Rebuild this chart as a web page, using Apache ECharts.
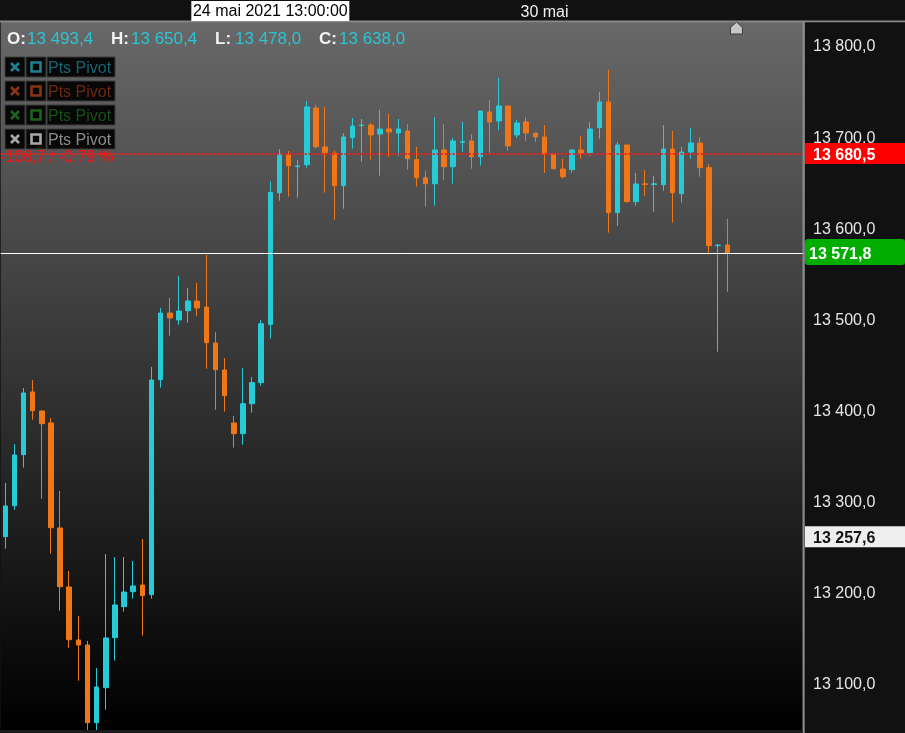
<!DOCTYPE html>
<html>
<head>
<meta charset="utf-8">
<script src="https://cdn.jsdelivr.net/npm/echarts@6/dist/echarts.min.js"></script>
<style>
html,body{margin:0;padding:0;background:#111;}
#chart{width:905px;height:733px;}
</style>
</head>
<body>
<div id="chart"></div>
<script>
// ---- data ----
const openV  = [13260.5,13294.5,13350.5,13419.3,13398.4,13385.3,13270.1,13205.3,13147.2,13141.7,
                13056.4,13094.8,13149.7,13183.7,13200.2,13207.5,13196.9,13432.8,13505.9,13498.3,
                13508.5,13519.1,13512.5,13473.0,13443.4,13385.3,13373.5,13406.4,13429.5,13493.4,
                13637.9,13679.3,13666.5,13668.7,13730.9,13688.1,13681.2,13645.6,13698.3,13711.5,
                13712.2,13702.3,13707.8,13703.4,13705.6,13674.2,13654.4,13647.8,13684.8,13666.5,
                13693.2,13694.7,13677.4,13726.5,13716.6,13733.1,13701.3,13715.5,13703.4,13699.1,
                13680.4,13663.9,13663.2,13684.8,13681.8,13709.3,13737.5,13616.0,13690.3,13628.1,
                13647.6,13646.9,13646.7,13685.9,13636.8,13682.6,13692.5,13665.4,13579.8,13580.6];
const highV  = [13319.4,13362.2,13423.7,13432.4,13398.4,13390.7,13310.6,13222.9,13173.5,13146.1,
                13116.4,13241.5,13238.2,13238.2,13233.8,13258.0,13446.7,13511.4,13522.4,13546.5,
                13533.4,13538.9,13569.6,13485.1,13456.6,13392.9,13445.6,13435.7,13498.3,13650.4,
                13685.9,13683.7,13673.8,13738.6,13734.2,13732.0,13684.0,13703.4,13719.9,13718.8,
                13714.4,13728.7,13724.3,13718.8,13713.3,13688.1,13662.1,13721.0,13713.3,13698.0,
                13715.5,13702.3,13727.6,13739.7,13763.8,13733.1,13717.7,13721.0,13703.4,13712.2,
                13681.5,13674.9,13685.9,13700.2,13715.5,13748.4,13772.6,13693.6,13690.3,13659.6,
                13662.8,13656.3,13712.2,13705.6,13688.1,13708.9,13699.1,13669.4,13581.7,13609.1];
const lowV   = [13247.3,13290.1,13336.2,13388.9,13302.2,13241.9,13179.3,13138.7,13102.5,13047.5,
                13047.5,13070.7,13124.5,13178.2,13192.5,13151.9,13192.5,13424.0,13481.0,13493.1,
                13495.3,13502.7,13444.8,13399.8,13397.7,13358.2,13361.4,13396.6,13426.2,13478.0,
                13629.2,13633.6,13632.5,13665.4,13686.2,13637.9,13608.3,13620.4,13686.2,13672.0,
                13674.2,13656.6,13677.4,13678.5,13663.2,13644.5,13622.6,13623.7,13652.2,13647.8,
                13682.9,13664.3,13667.6,13681.8,13706.7,13683.7,13698.0,13694.7,13693.6,13659.6,
                13663.2,13653.3,13659.9,13675.2,13678.5,13697.2,13594.1,13601.7,13627.0,13623.7,
                13634.7,13617.1,13640.1,13605.0,13627.0,13675.2,13655.5,13569.9,13463.5,13529.3];
const closeV = [13294.2,13350.1,13418.2,13398.8,13384.5,13270.4,13205.6,13147.5,13141.7,13056.4,
                13095.6,13149.4,13185.6,13199.8,13206.4,13195.8,13432.4,13505.9,13500.5,13508.1,
                13519.1,13511.4,13473.4,13443.7,13415.2,13373.5,13406.4,13429.5,13494.2,13638.0,
                13680.4,13667.6,13667.3,13732.0,13688.4,13681.8,13645.6,13699.1,13711.1,13712.2,
                13701.3,13707.8,13704.5,13707.8,13675.2,13654.4,13647.8,13684.8,13666.5,13694.7,
                13694.0,13677.4,13727.6,13715.5,13733.1,13689.2,13714.4,13703.4,13699.1,13680.4,
                13664.3,13655.5,13684.8,13681.5,13707.8,13737.5,13616.0,13690.3,13628.1,13647.5,
                13646.9,13647.6,13685.9,13637.9,13682.6,13692.5,13665.4,13579.8,13580.4,13571.8];
const slotCount = 88;                       // 80 candles + empty future slots
const categories = Array.from({length: slotCount}, (_, i) => 'c' + i);
const yTicks = [13100, 13200, 13300, 13400, 13500, 13600, 13700, 13800];
const hoverIndex = 29;
const hoverLabel = '24 mai 2021 13:00:00';
const dayIndex = 59;
const dayLabel = '30 mai';
const nextIndex = 80;
const refLevel = 13680.5;     // red dotted reference
const lastPrice = 13571.8;    // current price
const markLevel = 13257.6;    // white tag
const changeText = '-108,7 / -0,79 %';
const pivotColors = ['#176572', '#6e2810', '#175217', '#8a8a8a'];
const pivotMarkColors = ['#1d8190', '#8a3414', '#1c631c', '#a8a8a8'];
const pivotText = 'Pts Pivot';

// ---- helpers ----
const fmt = v => { const [i, d] = v.toFixed(1).split('.'); return i.replace(/\B(?=(\d{3})+(?!\d))/g, ' ') + ',' + d; };
const UP = '#27cbd8', DOWN = '#ef7718';
const FONT = "'Liberation Sans', Arial, sans-serif";
const DY = 1.5;   // small text baseline nudge

const candles = openV.map((o, i) => [o, closeV[i], lowV[i], highV[i]]);

const chart = echarts.init(document.getElementById('chart'), null, {renderer: 'canvas'});
chart.setOption({
  backgroundColor: '#111111',
  animation: false,
  grid: {
    left: 0.7, right: 100, top: 22, bottom: 3, show: true, borderWidth: 0,
    backgroundColor: {type: 'linear', x: 0, y: 0, x2: 0, y2: 1,
      colorStops: [{offset: 0, color: '#686868'}, {offset: 1, color: '#000000'}]}
  },
  xAxis: {
    type: 'category', data: categories, position: 'top', boundaryGap: true,
    axisLine: {show: false}, axisTick: {show: false}, splitLine: {show: false},
    axisLabel: {
      interval: (idx) => idx === dayIndex,
      formatter: () => dayLabel,
      color: '#f0f0f0', fontSize: 16, fontFamily: FONT, margin: 9, verticalAlign: 'middle'
    }
  },
  yAxis: {
    type: 'value', position: 'right', min: 13048.4, max: 13825.2, scale: true,
    axisLine: {show: false}, axisTick: {show: false}, splitLine: {show: false},
    axisLabel: {customValues: yTicks, formatter: v => '{t|' + fmt(v) + '}', margin: 8,
      rich: {t: {color: '#e6e6e6', fontSize: 16, fontFamily: FONT, padding: [4, 0, 0, 0]}}}
  },
  series: [{
    type: 'candlestick', data: candles, barWidth: 5,
    itemStyle: {color: UP, color0: DOWN, borderColor: UP, borderColor0: DOWN, borderWidth: 1},
    markLine: {
      silent: true, symbol: 'none', animation: false, label: {show: false},
      data: [
        {yAxis: refLevel, lineStyle: {color: '#ff1a1a', type: [2, 2], width: 2}},
        {yAxis: lastPrice, lineStyle: {color: '#ffffff', type: 'solid', width: 1}}
      ]
    }
  }]
});

// ---- overlays placed through the axes ----
const px = i => chart.convertToPixel({xAxisIndex: 0}, categories[i]);
const py = v => chart.convertToPixel({yAxisIndex: 0}, v);
const g = [];
// separators
g.push({type: 'rect', shape: {x: 0, y: 20.5, width: 905, height: 1.8}, style: {fill: '#8a8a8a'}, z: 100});
g.push({type: 'rect', shape: {x: 802.5, y: 21, width: 2.2, height: 712}, style: {fill: '#8a8a8a'}, z: 100});
// hovered date box
const hx = px(hoverIndex);
g.push({type: 'rect', shape: {x: hx - 79, y: 1, width: 158, height: 20}, style: {fill: '#ffffff'}, z: 100});
g.push({type: 'text', x: hx, y: 12, style: {text: hoverLabel, fill: '#000', font: '16px ' + FONT, align: 'center', verticalAlign: 'middle'}, z: 101});
// next-candle marker
const nx = px(nextIndex);
g.push({type: 'polygon', shape: {points: [[nx - 6, 34], [nx + 6, 34], [nx + 6, 27.5], [nx, 22], [nx - 6, 27.5]]},
  style: {fill: '#c6c6c6', stroke: '#3a3a3a', lineWidth: 1}, z: 100});
// OHLC header
const hdr = [['O:', openV[hoverIndex], 7, 27], ['H:', highV[hoverIndex], 111, 131], ['L:', lowV[hoverIndex], 215, 235], ['C:', closeV[hoverIndex], 319, 339]];
hdr.forEach(([k, v, kx, vx]) => {
  g.push({type: 'text', x: kx, y: 37.5 + DY, style: {text: k, fill: '#f2f2f2', font: 'bold 17px ' + FONT, verticalAlign: 'middle'}, z: 100});
  g.push({type: 'text', x: vx, y: 37.5 + DY, style: {text: fmt(v), fill: '#2ac6d4', font: '17px ' + FONT, verticalAlign: 'middle'}, z: 100});
});
// pivot legend rows
pivotColors.forEach((c, r) => {
  const y0 = 57 + r * 24;
  g.push({type: 'rect', shape: {x: 5, y: y0, width: 20, height: 20}, style: {fill: '#070707', stroke: '#3c3c3c', lineWidth: 1}, z: 100});
  g.push({type: 'rect', shape: {x: 26, y: y0, width: 20, height: 20}, style: {fill: '#070707', stroke: '#3c3c3c', lineWidth: 1}, z: 100});
  g.push({type: 'rect', shape: {x: 47, y: y0, width: 68, height: 20}, style: {fill: '#070707', stroke: '#3c3c3c', lineWidth: 1}, z: 100});
  const mc = pivotMarkColors[r];
  g.push({type: 'line', shape: {x1: 11, y1: y0 + 6, x2: 19, y2: y0 + 14}, style: {stroke: mc, lineWidth: 2.6}, z: 101});
  g.push({type: 'line', shape: {x1: 19, y1: y0 + 6, x2: 11, y2: y0 + 14}, style: {stroke: mc, lineWidth: 2.6}, z: 101});
  g.push({type: 'rect', shape: {x: 31.5, y: y0 + 5.5, width: 9, height: 9}, style: {fill: 'none', stroke: mc, lineWidth: 2.6}, z: 101});
  g.push({type: 'text', x: 48, y: y0 + 10.5 + DY, style: {text: pivotText, fill: c, font: '16px ' + FONT, verticalAlign: 'middle'}, z: 101});
});
// change text
g.push({type: 'text', x: 0, y: py(refLevel) + 2.5 + DY, style: {text: changeText, fill: '#ff1010', font: '16px ' + FONT, verticalAlign: 'middle'}, z: 100});
// axis tags
const ry = py(refLevel), ly = py(lastPrice), wy = py(markLevel);
g.push({type: 'rect', shape: {x: 805, y: ry - 11, width: 100, height: 21}, style: {fill: '#ff0000'}, z: 100});
g.push({type: 'text', x: 813, y: ry + DY, style: {text: fmt(refLevel), fill: '#fff', font: 'bold 16px ' + FONT, verticalAlign: 'middle'}, z: 101});
g.push({type: 'rect', shape: {x: 805, y: ly - 14, width: 100, height: 26, r: 3}, style: {fill: '#00ad00'}, z: 100});
g.push({type: 'text', x: 809, y: ly + DY, style: {text: fmt(lastPrice), fill: '#fff', font: 'bold 16px ' + FONT, verticalAlign: 'middle'}, z: 101});
g.push({type: 'rect', shape: {x: 805, y: wy - 13, width: 100, height: 21}, style: {fill: '#eeeeee'}, z: 100});
g.push({type: 'text', x: 813, y: wy - 2 + DY, style: {text: fmt(markLevel), fill: '#111', font: 'bold 16px ' + FONT, verticalAlign: 'middle'}, z: 101});
// bottom edge
g.push({type: 'rect', shape: {x: 0, y: 730, width: 802.5, height: 3}, style: {fill: '#1c1c1c'}, z: 100});

chart.setOption({graphic: g});
</script>
</body>
</html>
